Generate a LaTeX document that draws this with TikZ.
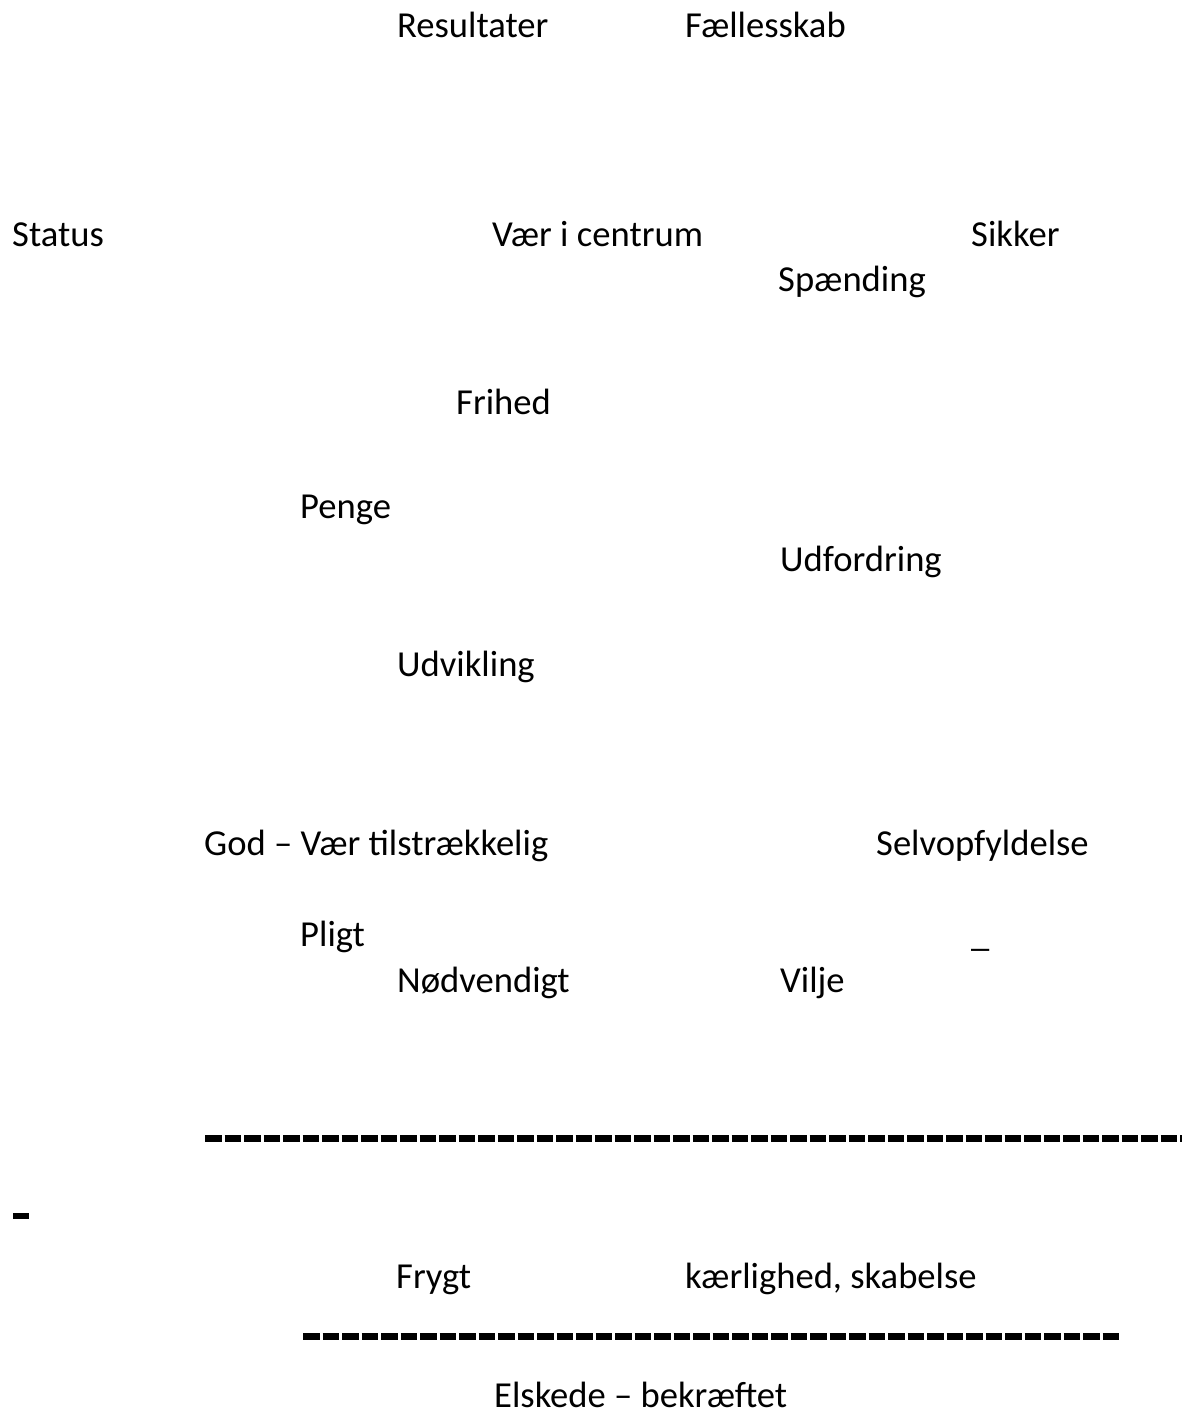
\documentclass[tikz,border=0pt]{standalone}
\usepackage{fontspec}
\setmainfont{Carlito}
\usetikzlibrary{positioning}

\begin{document}
\begin{tikzpicture}[x=1pt,y=-1pt,
    every node/.style={anchor=base west,inner sep=0pt,font=\fontsize{36.6}{44}\selectfont},
    rule/.style={line width=7pt,dash pattern=on 16.5pt off 3pt}]
\useasboundingbox (0,0) rectangle (1182,1412);
% top row
\node (res) at (397,38) {Resultater};
\node (faell) at (685,38) {Fællesskab};
% middle
\node (status) at (12,247) {Status};
\node (centrum) at (492,247) {Vær i centrum};
\node (sikker) at (971,247) {Sikker};
\node (spaend) at (778,292) {Spænding};
\node (frihed) at (456,414) {Frihed};
\node (penge) at (300,518) {Penge};
\node (udf) at (780,571) {Udfordring};
\node (udv) at (397,676) {Udvikling};
\node (god) at (204,855) {God – Vær tilstrækkelig};
\node (selv) at (876,855) {Selvopfyldelse};
\node (pligt) at (300,946) {Pligt};
\node (streg) at (971,946) {\_};
\node (noedv) at (397,992) {Nødvendigt};
\node (vilje) at (780,992) {Vilje};
% bottom
\draw[rule] (205,1138) -- (1182,1138);
\draw[line width=6pt] (13,1216) -- (29,1216);
\node (frygt) at (396,1288) {Frygt};
\node (kaer) at (685,1288) {kærlighed, skabelse};
\draw[rule] (303,1336) -- (1120,1336);
\node (elsk) at (494,1407) {Elskede – bekræftet};
\end{tikzpicture}
\end{document}
